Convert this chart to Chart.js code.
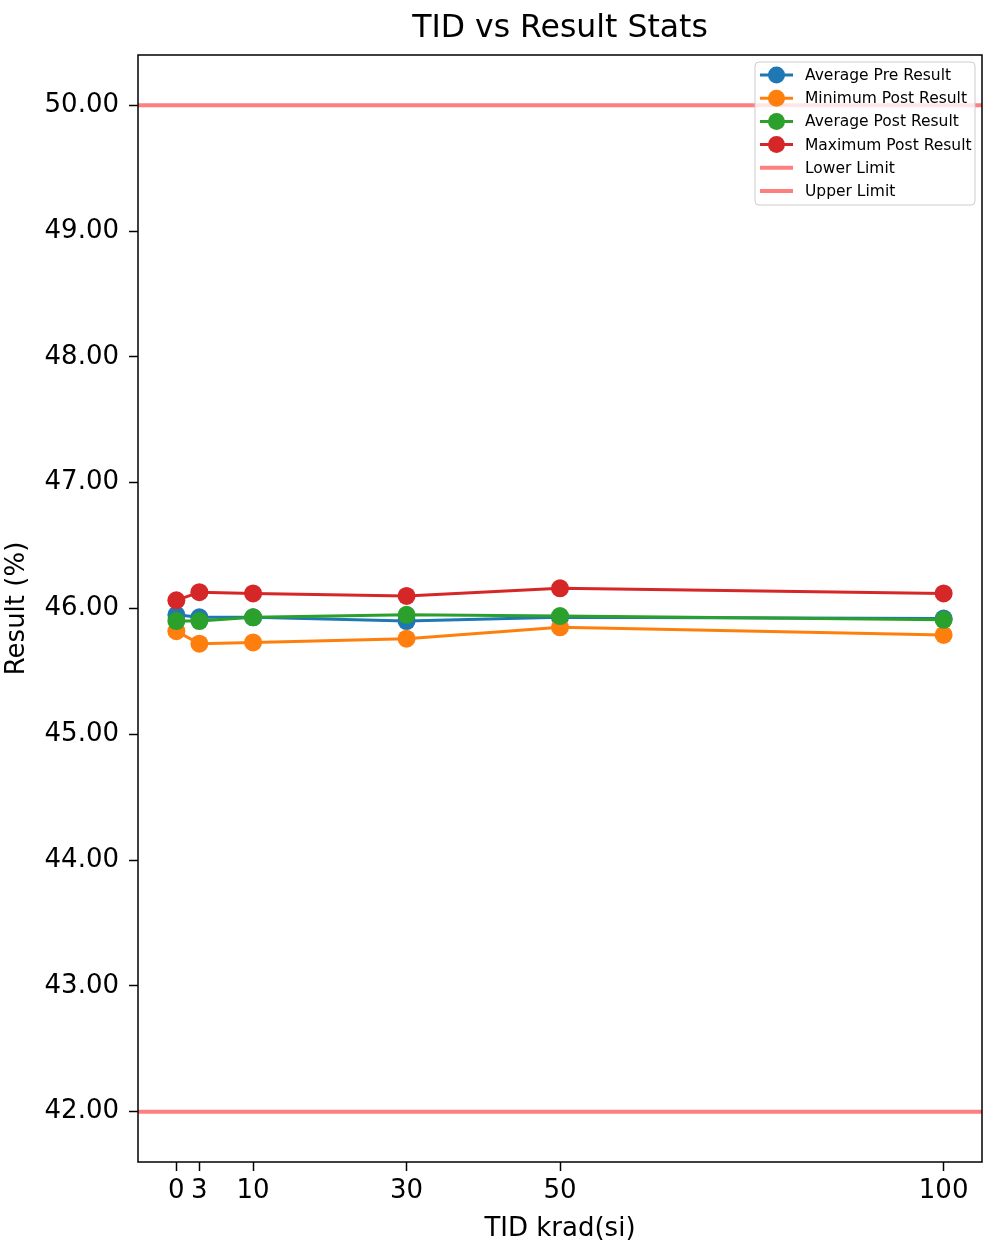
<!DOCTYPE html>
<html>
<head>
<meta charset="utf-8">
<script src="https://cdn.jsdelivr.net/npm/chart.js@4.4.0/dist/chart.umd.min.js"></script>
<style>
  body { margin: 0; background: #fff; }
  #wrap { width: 984px; height: 1249px; }
</style>
</head>
<body>
<div id="wrap"><canvas id="tidChart" width="984" height="1249"></canvas></div>
<script>
// data
const tidDoses = [0, 3, 10, 30, 50, 100];
const avgPre = [45.95, 45.93, 45.93, 45.90, 45.93, 45.92];
const minPost = [45.82, 45.72, 45.73, 45.76, 45.85, 45.79];
const avgPost = [45.90, 45.90, 45.93, 45.95, 45.94, 45.91];
const maxPost = [46.065, 46.13, 46.12, 46.10, 46.16, 46.12];
const lowerLimit = 42;
const upperLimit = 50;
const yTicks = [42, 43, 44, 45, 46, 47, 48, 49, 50];
const xTicks = [0, 3, 10, 30, 50, 100];
const xRange = [-5, 105];
const yRange = [41.6, 50.4];

const FONT = "'DejaVu Sans', sans-serif";

function points(vals) {
  return tidDoses.map((x, i) => ({ x: x, y: vals[i] }));
}
function hline(v) {
  return [{ x: xRange[0], y: v }, { x: xRange[1], y: v }];
}

function series(label, vals, color, order) {
  return {
    label: label,
    data: points(vals),
    borderColor: color,
    backgroundColor: color,
    borderWidth: 3,
    pointRadius: 9,
    pointHoverRadius: 9,
    pointBorderWidth: 0,
    order: order,
    marker: true
  };
}

function limit(label, v) {
  return {
    label: label,
    data: hline(v),
    borderColor: "rgba(255,0,0,0.5)",
    backgroundColor: "rgba(255,0,0,0.5)",
    borderWidth: 4,
    pointRadius: 0,
    order: 0,
    marker: false
  };
}

// matplotlib-like frame
const framePlugin = {
  id: "frame",
  afterDatasetsDraw(chart) {
    const { ctx, chartArea: a } = chart;
    ctx.save();
    ctx.strokeStyle = "#000";
    ctx.lineWidth = 1.5;
    ctx.strokeRect(a.left, a.top, a.right - a.left, a.bottom - a.top);
    ctx.restore();
  }
};

// legend inside the plot, upper right
const boxLegend = {
  id: "boxLegend",
  afterDraw(chart) {
    const { ctx, chartArea: a } = chart;
    const sets = chart.data.datasets;
    const w = 220, rowH = 23.2;
    const h = 143;
    const x0 = a.right - 7 - w, y0 = a.top + 7;
    ctx.save();
    ctx.beginPath();
    ctx.roundRect(x0, y0, w, h, 4);
    ctx.fillStyle = "rgba(255,255,255,0.8)";
    ctx.fill();
    ctx.strokeStyle = "#cccccc";
    ctx.lineWidth = 1;
    ctx.stroke();
    ctx.font = "15.5px " + FONT;
    ctx.textBaseline = "middle";
    sets.forEach((ds, i) => {
      const y = y0 + 13 + i * rowH;
      ctx.strokeStyle = ds.borderColor;
      ctx.lineWidth = ds.borderWidth;
      ctx.beginPath();
      ctx.moveTo(x0 + 5, y);
      ctx.lineTo(x0 + 38, y);
      ctx.stroke();
      if (ds.marker) {
        ctx.fillStyle = ds.backgroundColor;
        ctx.beginPath();
        ctx.arc(x0 + 21.5, y, 8.5, 0, Math.PI * 2);
        ctx.fill();
      }
      ctx.fillStyle = "#000";
      ctx.fillText(ds.label, x0 + 50, y + 1);
    });
    ctx.restore();
  }
};

new Chart(document.getElementById("tidChart"), {
  type: "line",
  data: {
    datasets: [
      series("Average Pre Result", avgPre, "#1f77b4", 4),
      series("Minimum Post Result", minPost, "#ff7f0e", 3),
      series("Average Post Result", avgPost, "#2ca02c", 2),
      series("Maximum Post Result", maxPost, "#d62728", 1),
      limit("Lower Limit", lowerLimit),
      limit("Upper Limit", upperLimit)
    ]
  },
  options: {
    responsive: false,
    animation: false,
    devicePixelRatio: 1,
    layout: { autoPadding: false, padding: { left: 0, right: 2, top: 0, bottom: 0 } },
    plugins: {
      legend: { display: false },
      tooltip: { enabled: false },
      title: {
        display: true,
        text: "TID vs Result Stats",
        fullSize: false,
        color: "#000",
        font: { family: FONT, size: 31.5, weight: "normal" },
        padding: { top: 10, bottom: 7.2 }
      }
    },
    scales: {
      x: {
        type: "linear",
        min: xRange[0],
        max: xRange[1],
        afterBuildTicks(scale) { scale.ticks = xTicks.map(v => ({ value: v })); },
        afterFit(scale) {
          scale.height = 87;
          scale.paddingLeft = 0;
          scale.paddingRight = 0;
        },
        grid: { display: true, drawOnChartArea: false, drawTicks: true, tickLength: 9, tickWidth: 1.5, tickColor: "#000" },
        border: { display: false },
        ticks: { color: "#000", padding: 5, maxRotation: 0, autoSkip: false, font: { family: FONT, size: 26 } },
        title: { display: true, text: "TID krad(si)", color: "#000", padding: 4, font: { family: FONT, size: 26 } }
      },
      y: {
        type: "linear",
        min: yRange[0],
        max: yRange[1],
        afterBuildTicks(scale) { scale.ticks = yTicks.map(v => ({ value: v })); },
        afterFit(scale) {
          scale.width = 138;
          scale.paddingTop = 0;
          scale.paddingBottom = 0;
        },
        grid: { display: true, drawOnChartArea: false, drawTicks: true, tickLength: 9, tickWidth: 1.5, tickColor: "#000" },
        border: { display: false },
        ticks: {
          color: "#000",
          padding: 10,
          autoSkip: false,
          font: { family: FONT, size: 26 },
          callback: v => Number(v).toFixed(2)
        },
        title: { display: true, text: "Result (%)", color: "#000", padding: 2, font: { family: FONT, size: 26 } }
      }
    }
  },
  plugins: [framePlugin, boxLegend]
});
</script>
</body>
</html>
